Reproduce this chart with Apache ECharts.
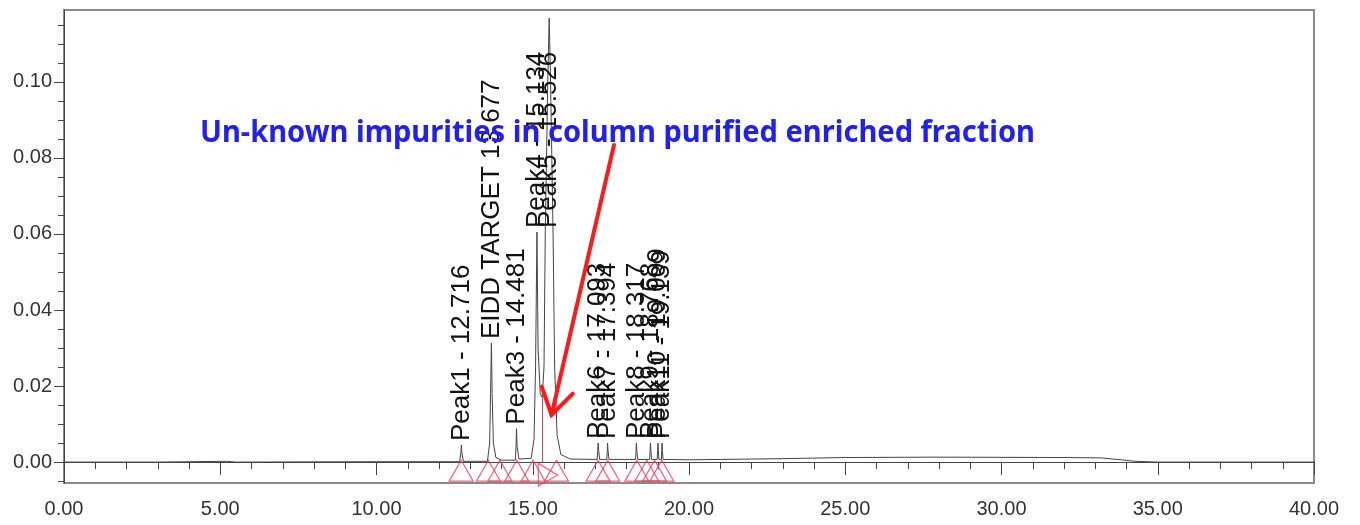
<!DOCTYPE html>
<html>
<head>
<meta charset="utf-8">
<script src="https://cdn.jsdelivr.net/npm/echarts@6/dist/echarts.min.js"></script>
<style>
html,body{margin:0;padding:0;background:#fff;}
#chart{width:1360px;height:525px;}
</style>
</head>
<body>
<div id="chart"></div>
<script>
// ---- data ----
const traceT = [0.0, 3.0, 5.2, 5.5, 10.0, 12.0, 12.66, 12.70, 12.716, 12.73, 12.78,
  13.55, 13.62, 13.65, 13.677, 13.70, 13.74, 13.82, 14.0, 14.44, 14.465, 14.481, 14.50, 14.56,
  14.95, 15.04, 15.09, 15.134, 15.17, 15.24, 15.30, 15.36, 15.40, 15.48, 15.526, 15.57, 15.65, 15.70, 15.78, 15.90, 16.2,
  17.06, 17.08, 17.093, 17.11, 17.14, 17.37, 17.385, 17.394, 17.41, 17.44,
  18.29, 18.305, 18.317, 18.33, 18.36, 18.74, 18.755, 18.768, 18.78, 18.80,
  18.98, 18.995, 19.009, 19.02, 19.035, 19.115, 19.128, 19.139, 19.15, 19.17,
  20.0, 23.0, 25.0, 28.0, 32.0, 33.2, 34.3, 35.0, 40.0];
const traceAU = [0.0000, 0.0000, 0.0002, 0.0000, 0.0001, 0.0001, 0.0001, 0.0025, 0.0045, 0.0025, 0.0002,
  0.0002, 0.0050, 0.0180, 0.0313, 0.0180, 0.0050, 0.0012, 0.0005, 0.0005, 0.0040, 0.0088, 0.0040, 0.0008,
  0.0010, 0.0060, 0.0250, 0.0605, 0.0300, 0.0180, 0.0170, 0.0250, 0.0600, 0.1000, 0.1168, 0.1000, 0.0600, 0.0250, 0.0070, 0.0020, 0.0008,
  0.0007, 0.0030, 0.0050, 0.0030, 0.0007, 0.0007, 0.0030, 0.0050, 0.0030, 0.0007,
  0.0007, 0.0030, 0.0050, 0.0030, 0.0007, 0.0007, 0.0030, 0.0050, 0.0030, 0.0007,
  0.0007, 0.0030, 0.0050, 0.0030, 0.0007, 0.0007, 0.0030, 0.0050, 0.0030, 0.0007,
  0.0006, 0.0009, 0.0012, 0.0013, 0.0012, 0.0011, 0.0002, 0.0000, 0.0000];

const peakNames = ['Peak1 - 12.716', 'EIDD TARGET 13.677', 'Peak3 - 14.481', 'Peak4 - 15.134', 'Peak5 - 15.526',
  'Peak6 - 17.093', 'Peak7 - 17.394', 'Peak8 - 18.317', 'Peak9 - 18.768', 'Peak10 - 19.009', 'Peak11 - 19.139'];
const peakTimes = [12.716, 13.677, 14.481, 15.134, 15.526, 17.093, 17.394, 18.317, 18.768, 19.009, 19.139];
const peakHeights = [0.0045, 0.0313, 0.0088, 0.0605, 0.1168, 0.0050, 0.0050, 0.0050, 0.0050, 0.0050, 0.0050];

const markerTimes = [12.71, 13.58, 13.95, 14.49, 15.01, 15.76, 17.09, 17.40, 18.33, 18.65, 18.90, 19.13];
const tiltedMarkerTimes = [15.33];
const dropLineTimes = [15.30];
const dropLineValues = [0.0170];

const xTickValues = [0, 5, 10, 15, 20, 25, 30, 35, 40];
const yTickValues = [0.00, 0.02, 0.04, 0.06, 0.08, 0.10];
const yMinorTickValues = [-0.005, 0.005, 0.010, 0.015, 0.025, 0.030, 0.035, 0.045, 0.050, 0.055, 0.065, 0.070, 0.075, 0.085, 0.090, 0.095, 0.105, 0.110, 0.115];

const noteText = 'Un-known impurities in column purified enriched fraction';
const arrowFrom = [17.6, 0.0834];
const arrowTo = [15.6, 0.0124];

// ---- styles / layout ----
const Y_MIN = -0.0055, Y_MAX = 0.1189;
const LABEL_CAP = 0.0605;
const MARKER_Y = -0.00225;
const AXIS_FONT = '"Liberation Sans", Arial, sans-serif';

const chart = echarts.init(document.getElementById('chart'), null, {renderer: 'canvas'});

const option = {
  animation: false,
  backgroundColor: '#ffffff',
  grid: {left: 64, right: 46, top: 10, bottom: 42, show: true, borderColor: '#8a8a8a', borderWidth: 2, containLabel: false},
  xAxis: {
    type: 'value', min: 0, max: 40, interval: 5,
    axisLine: {show: true, lineStyle: {color: '#444', width: 1}},
    axisTick: {show: true, length: 13, lineStyle: {color: '#444'}},
    minorTick: {show: true, splitNumber: 5, length: 7, lineStyle: {color: '#444'}},
    splitLine: {show: false},
    axisLabel: {show: true, color: '#333', fontSize: 20, fontFamily: AXIS_FONT, margin: 16,
      showMinLabel: true, showMaxLabel: true,
      formatter: v => (xTickValues.indexOf(v) >= 0 ? v.toFixed(2) : '')}
  },
  yAxis: [{
    type: 'value', min: Y_MIN, max: Y_MAX, position: 'left',
    axisLine: {show: true, onZero: false, lineStyle: {color: '#444', width: 1}},
    axisTick: {show: true, length: 10, customValues: yTickValues, lineStyle: {color: '#444'}},
    splitLine: {show: false},
    axisLabel: {show: true, customValues: yTickValues, color: '#333', fontSize: 20, fontFamily: AXIS_FONT, margin: 12,
      formatter: v => v.toFixed(2)}
  }, {
    type: 'value', min: Y_MIN, max: Y_MAX, position: 'left', offset: 0,
    axisLine: {show: false},
    axisTick: {show: true, length: 6, customValues: yMinorTickValues, lineStyle: {color: '#444'}},
    splitLine: {show: false},
    axisLabel: {show: false}
  }],
  series: [
    {
      type: 'line', name: 'trace', yAxisIndex: 0,
      data: traceT.map((t, i) => [t, traceAU[i]]),
      showSymbol: false, symbol: 'none',
      lineStyle: {color: '#444', width: 1},
      z: 3
    },
    {
      type: 'scatter', name: 'markers',
      data: markerTimes.map(t => [t, MARKER_Y]),
      symbol: 'triangle', symbolSize: [24, 21],
      itemStyle: {color: 'rgba(0,0,0,0)', borderColor: '#ee3f62', borderWidth: 1.2},
      z: 2, silent: true
    },
    {
      type: 'scatter', name: 'markers2',
      data: tiltedMarkerTimes.map(t => [t, MARKER_Y - 0.0003]),
      symbol: 'triangle', symbolSize: [22, 20], symbolRotate: 30,
      itemStyle: {color: 'rgba(0,0,0,0)', borderColor: '#ee3f62', borderWidth: 1.2},
      z: 2, silent: true
    },
    {
      type: 'line', name: 'drop',
      data: [],
      markLine: {
        silent: true, symbol: ['none', 'none'], label: {show: false},
        lineStyle: {color: '#ee3f62', width: 1, type: 'solid'},
        data: dropLineTimes.map((t, i) => [{coord: [t, 0]}, {coord: [t, dropLineValues[i]]}])
      }
    },
    {
      type: 'custom', name: 'peakLabels',
      data: peakTimes.map((t, i) => [t, peakHeights[i]]),
      clip: false, z: 5,
      renderItem: function (params, api) {
        const t = api.value(0), h = api.value(1);
        const p = api.coord([t, Math.min(h, LABEL_CAP)]);
        return {
          type: 'text', x: p[0], y: p[1] - 4, rotation: Math.PI / 2,
          style: {text: peakNames[params.dataIndex], fill: '#111', font: '26px "Liberation Sans", Arial, sans-serif',
            textAlign: 'left', textVerticalAlign: 'middle'}
        };
      }
    }
  ]
};
chart.setOption(option);

// annotation text, stretched to the width seen in the reference
const noteFont = 'bold 31px "Noto Sans", sans-serif';
const ctx = document.createElement('canvas').getContext('2d');
ctx.font = noteFont;
const noteW = ctx.measureText(noteText).width;
const noteScale = 835 / noteW;

const a0 = chart.convertToPixel({gridIndex: 0}, arrowFrom);
const a1 = chart.convertToPixel({gridIndex: 0}, arrowTo);
const dx = a0[0] - a1[0], dy = a0[1] - a1[1];
const len = Math.sqrt(dx * dx + dy * dy);
const ux = dx / len, uy = dy / len;
const armLen = 30, armAng = 32 * Math.PI / 180;
function rot(x, y, a) { return [x * Math.cos(a) - y * Math.sin(a), x * Math.sin(a) + y * Math.cos(a)]; }
const r1 = rot(ux, uy, armAng), r2 = rot(ux, uy, -armAng);

chart.setOption({
  graphic: [
    {type: 'text', x: 200, y: 133, scaleX: noteScale, z: 10,
      style: {text: noteText, font: noteFont, fill: '#2020f0', textAlign: 'left', textVerticalAlign: 'middle'}},
    {type: 'polyline', z: 11, shape: {points: [a0, a1]}, style: {stroke: '#ff1a1a', lineWidth: 4, lineCap: 'round'}},
    {type: 'polyline', z: 11, shape: {points: [[a1[0] + r1[0] * armLen, a1[1] + r1[1] * armLen], a1, [a1[0] + r2[0] * armLen, a1[1] + r2[1] * armLen]]},
      style: {stroke: '#ff1a1a', lineWidth: 4, lineCap: 'round', lineJoin: 'miter', fill: null}}
  ]
});
</script>
</body>
</html>
